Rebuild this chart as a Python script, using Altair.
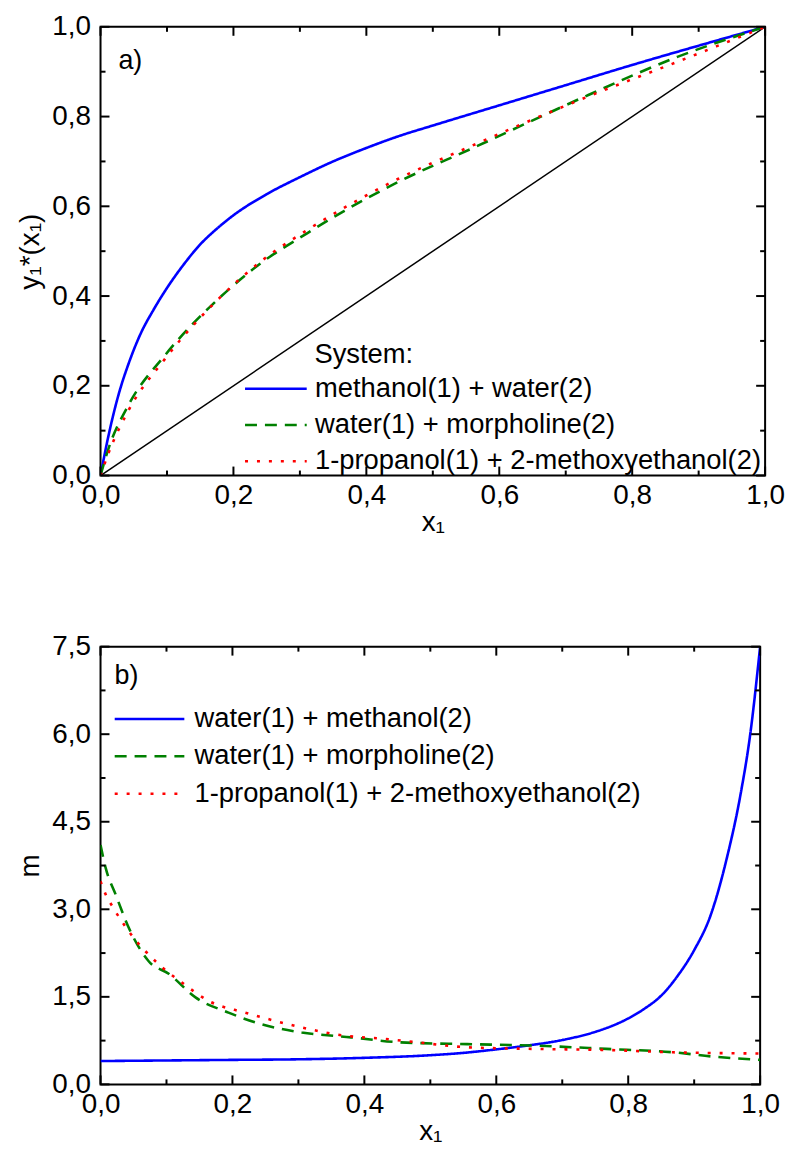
import altair as alt
import pandas as pd

FONT = "Liberation Sans"

# ---------------- panel a) : y1*(x1) vs x1 ----------------
sys_a = ["methanol(1) + water(2)", "water(1) + morpholine(2)",
         "1-propanol(1) + 2-methoxyethanol(2)"]

xa_blue = [0, 0.01, 0.02, 0.03, 0.04, 0.06, 0.08, 0.10, 0.125, 0.15, 0.175, 0.2,
           0.25, 0.3, 0.35, 0.4, 0.45, 0.5, 0.6, 0.7, 0.8, 0.9, 1.0]
ya_blue = [0, 0.075, 0.14, 0.195, 0.24, 0.315, 0.37, 0.418, 0.47, 0.515, 0.55, 0.58,
           0.627, 0.665, 0.70, 0.73, 0.757, 0.78, 0.825, 0.87, 0.915, 0.958, 1.0]

xa_green = [0, 0.012, 0.042, 0.097, 0.182, 0.242, 0.312, 0.367, 0.449, 0.559, 0.734, 0.868, 1.0]
ya_green = [0, 0.06, 0.157, 0.268, 0.40, 0.474, 0.541, 0.59, 0.655, 0.729, 0.848, 0.933, 1.0]

xa_red = [0, 0.012, 0.042, 0.097, 0.182, 0.242, 0.312, 0.367, 0.449, 0.559, 0.734, 0.868, 1.0]
ya_red = [0, 0.05, 0.145, 0.26, 0.40, 0.478, 0.548, 0.597, 0.662, 0.735, 0.845, 0.922, 1.0]

diag_x = [0, 1]
diag_y = [0, 1]

# ---------------- panel b) : m vs x1 ----------------
sys_b = ["water(1) + methanol(2)", "water(1) + morpholine(2)",
         "1-propanol(1) + 2-methoxyethanol(2)"]

xb_blue = [0, 0.1, 0.2, 0.3, 0.4, 0.5, 0.55, 0.6, 0.65, 0.7, 0.75, 0.775, 0.8, 0.825,
           0.85, 0.875, 0.9, 0.925, 0.95, 0.97, 0.985, 1.0]
mb_blue = [0.40, 0.41, 0.42, 0.43, 0.455, 0.50, 0.54, 0.60, 0.67, 0.76, 0.90, 1.0,
           1.13, 1.30, 1.52, 1.86, 2.30, 2.90, 3.90, 4.95, 6.0, 7.5]

xb_green = [0, 0.008, 0.023, 0.043, 0.073, 0.104, 0.144, 0.194, 0.244, 0.305, 0.38,
            0.455, 0.556, 0.657, 0.767, 0.868, 0.928, 1.0]
mb_green = [4.10, 3.70, 3.25, 2.68, 2.11, 1.89, 1.49, 1.23, 1.03, 0.89, 0.806,
            0.72, 0.69, 0.665, 0.608, 0.55, 0.477, 0.42]

xb_red = [0, 0.008, 0.018, 0.043, 0.088, 0.124, 0.164, 0.219, 0.254, 0.315, 0.37,
          0.43, 0.481, 0.556, 0.657, 0.767, 0.868, 1.0]
mb_red = [3.48, 3.25, 3.05, 2.62, 2.06, 1.74, 1.43, 1.23, 1.12, 0.95, 0.835,
          0.78, 0.72, 0.636, 0.608, 0.59, 0.55, 0.53]

colors = ["#0000ff", "#008000", "#ff0000"]
dashes = [[1, 0], [12, 8], [3, 9]]

ticks_01_major = [0.0, 0.2, 0.4, 0.6, 0.8, 1.0]
ticks_01_minor = [0.1, 0.3, 0.5, 0.7, 0.9]
ticks_m_major = [0.0, 1.5, 3.0, 4.5, 6.0, 7.5]
ticks_m_minor = [0.75, 2.25, 3.75, 5.25, 6.75]

LABEL_EXPR = "replace(format(datum.value, '.1f'), '.', ',')"
TICK_FS = 28
LEG_FS = 27.5


def make_df(xs_list, ys_list, names):
    rows = []
    for xs, ys, name in zip(xs_list, ys_list, names):
        for x, y in zip(xs, ys):
            rows.append({"x": x, "y": y, "system": name})
    return pd.DataFrame(rows)


def axis(title, values, orient, label_pad, title_pad):
    return alt.Axis(title=title, values=values, labelExpr=LABEL_EXPR, orient=orient,
                    ticks=False, domain=False, grid=False, labelFlush=False,
                    labelOverlap=False,
                    labelPadding=label_pad, titlePadding=title_pad,
                    labelFontSize=TICK_FS, titleFontSize=TICK_FS,
                    labelFont=FONT, titleFont=FONT, titleFontWeight="normal",
                    labelColor="black", titleColor="black")


def tick_layers(xmaj, xmin, ymaj, ymin, xs, ys, xax, yax, W, H):
    layers = []
    for vals, L in [(xmaj, 9), (xmin, 5)]:
        base = alt.Chart(pd.DataFrame({"t": vals})).mark_rule(color="black", strokeWidth=2)
        layers.append(base.encode(x=alt.X("t:Q", scale=xs, axis=xax),
                                  y=alt.value(H), y2=alt.value(H - L)))
        layers.append(base.encode(x=alt.X("t:Q", scale=xs, axis=xax),
                                  y=alt.value(0), y2=alt.value(L)))
    for vals, L in [(ymaj, 9), (ymin, 5)]:
        base = alt.Chart(pd.DataFrame({"t": vals})).mark_rule(color="black", strokeWidth=2)
        layers.append(base.encode(y=alt.Y("t:Q", scale=ys, axis=yax),
                                  x=alt.value(0), x2=alt.value(L)))
        layers.append(base.encode(y=alt.Y("t:Q", scale=ys, axis=yax),
                                  x=alt.value(W), x2=alt.value(W - L)))
    return layers


def text_layer(txt, x, y, size):
    return alt.Chart(pd.DataFrame({"t": [txt]})).mark_text(
        align="left", baseline="middle", fontSize=size, font=FONT, color="black"
    ).encode(x=alt.value(x), y=alt.value(y), text="t:N")


def legend(lx, ly, path, label_offset, row_pad):
    return alt.Legend(orient="none", legendX=lx, legendY=ly, title=None,
                      symbolType=path, symbolSize=400, symbolStrokeWidth=2.5,
                      labelFontSize=LEG_FS, labelFont=FONT, labelColor="black",
                      labelOffset=label_offset, rowPadding=row_pad, padding=0,
                      labelLimit=0)


# ---------- panel a ----------
W1, H1 = 668, 451
xs_a = alt.Scale(domain=[0, 1], nice=False, zero=False)
ys_a = alt.Scale(domain=[0, 1], nice=False, zero=False)
xax_a = axis("x₁", ticks_01_major, "bottom", 6, -1)
yax_a = axis("y₁*(x₁)", ticks_01_major, "left", 10, 7)

df_a = make_df([xa_blue, xa_green, xa_red], [ya_blue, ya_green, ya_red], sys_a)
leg_a = legend(162.5, 350, "M-3.1,0H3.1", 25.5, 7.5)

diag = alt.Chart(pd.DataFrame({"x": diag_x, "y": diag_y})).mark_line(
    color="black", strokeWidth=1.5).encode(
    x=alt.X("x:Q", scale=xs_a, axis=xax_a), y=alt.Y("y:Q", scale=ys_a, axis=yax_a))

lines_a = alt.Chart(df_a).mark_line(strokeWidth=2.6, clip=True, interpolate="monotone").encode(
    x=alt.X("x:Q", scale=xs_a, axis=xax_a),
    y=alt.Y("y:Q", scale=ys_a, axis=yax_a),
    color=alt.Color("system:N", scale=alt.Scale(domain=sys_a, range=colors), legend=leg_a),
    strokeDash=alt.StrokeDash("system:N", scale=alt.Scale(domain=sys_a, range=dashes),
                              legend=leg_a),
)

panel_a = alt.layer(
    diag, lines_a,
    *tick_layers(ticks_01_major, ticks_01_minor, ticks_01_major, ticks_01_minor,
                 xs_a, ys_a, xax_a, yax_a, W1, H1),
    text_layer("a)", 18, 34, 27),
    text_layer("System:", 215, 330, LEG_FS),
).properties(width=W1, height=H1)

# ---------- panel b ----------
W2, H2 = 663, 440
xs_b = alt.Scale(domain=[0, 1], nice=False, zero=False)
ys_b = alt.Scale(domain=[0, 7.5], nice=False, zero=False)
xax_b = axis("x₁", ticks_01_major, "bottom", 6, -1)
yax_b = axis("m", ticks_m_major, "left", 10, 7)

df_b = make_df([xb_blue, xb_green, xb_red], [mb_blue, mb_green, mb_red], sys_b)
leg_b = legend(35.5, 59, "M-3.5,0H3.5", 31.5, 8.5)

lines_b = alt.Chart(df_b).mark_line(strokeWidth=2.6, clip=True, interpolate="monotone").encode(
    x=alt.X("x:Q", scale=xs_b, axis=xax_b),
    y=alt.Y("y:Q", scale=ys_b, axis=yax_b),
    color=alt.Color("system:N", scale=alt.Scale(domain=sys_b, range=colors), legend=leg_b),
    strokeDash=alt.StrokeDash("system:N", scale=alt.Scale(domain=sys_b, range=dashes),
                              legend=leg_b),
)

panel_b = alt.layer(
    lines_b,
    *tick_layers(ticks_01_major, ticks_01_minor, ticks_m_major, ticks_m_minor,
                 xs_b, ys_b, xax_b, yax_b, W2, H2),
    text_layer("b)", 14, 30, 27),
).properties(width=W2, height=H2)

chart = alt.vconcat(panel_a, panel_b, spacing=95).resolve_scale(
    color="independent", strokeDash="independent", x="independent", y="independent"
).properties(
    padding={"left": 8, "top": 1, "right": 0, "bottom": -2}
).configure_view(stroke="black", strokeWidth=2)

chart.save("out.html", embed_options={"renderer": "svg", "actions": False})
